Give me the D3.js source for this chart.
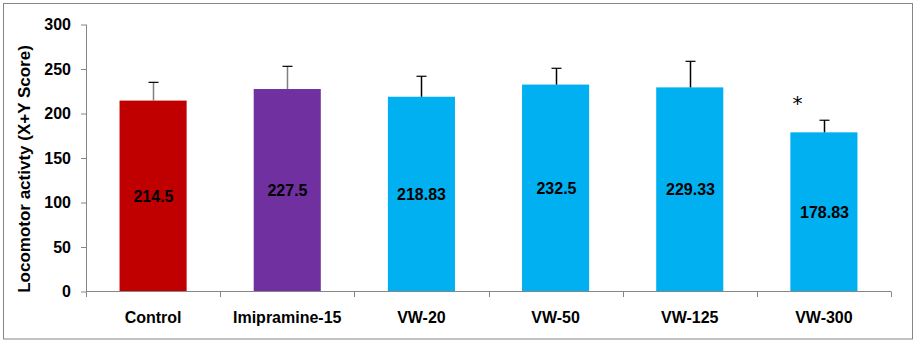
<!DOCTYPE html>
<html><head><meta charset="utf-8">
<script src="https://cdn.jsdelivr.net/npm/d3@7"></script>
<style>body{margin:0;background:#fff}svg{display:block}text{font-family:"Liberation Sans",Arial,sans-serif}</style>
</head><body>
<script>
const categories = ["Control","Imipramine-15","VW-20","VW-50","VW-125","VW-300"];
const values = [214.5,227.5,218.83,232.5,229.33,178.83];
const errors = [20.5,25.5,23,18.3,29.3,13.6];
const labels = ["214.5","227.5","218.83","232.5","229.33","178.83"];
const colors = ["#c00000","#7030a0","#00b0f0","#00b0f0","#00b0f0","#00b0f0"];
const errColors = ["#7f7f7f","#7f7f7f","#000","#000","#000","#000"];
const significant = [false,false,false,false,false,true];
const yTicks = [0,50,100,150,200,250,300];

const W=917,H=343;
const svg=d3.select("body").append("svg").attr("width",W).attr("height",H);
svg.append("rect").attr("x",3.5).attr("y",3.5).attr("width",909).attr("height",335.5).attr("fill","#fff").attr("stroke","#868686").attr("stroke-width",1);

const x=d3.scaleBand().domain(categories).range([86,891]).paddingInner(0.5).paddingOuter(0.25);
const y=d3.scaleLinear().domain([0,300]).range([291.5,24.5]);

// bars
svg.selectAll("rect.bar").data(categories).enter().append("rect")
 .attr("x",d=>x(d)).attr("width",x.bandwidth())
 .attr("y",(d,i)=>y(values[i])).attr("height",(d,i)=>y(0)-y(values[i]))
 .attr("fill",(d,i)=>colors[i]);

// error bars
categories.forEach((c,i)=>{
  const cx=Math.round(x(c)+x.bandwidth()/2)+0.5;
  svg.append("line").attr("x1",cx).attr("x2",cx).attr("y1",y(values[i])).attr("y2",y(values[i]+errors[i])).attr("stroke",errColors[i]).attr("stroke-width",1.5);
  svg.append("line").attr("x1",cx-5).attr("x2",cx+5).attr("y1",y(values[i]+errors[i])).attr("y2",y(values[i]+errors[i])).attr("stroke","#000").attr("stroke-width",1.2);
  svg.append("text").attr("x",cx).attr("y",(y(values[i])+y(0))/2).attr("dy","0.35em").attr("text-anchor","middle")
    .attr("font-size",16).attr("font-weight","bold").attr("fill","#000").text(labels[i]);
  if(significant[i]){
    svg.append("text").attr("x",cx-27).attr("y",y(values[i]+errors[i])-10).attr("text-anchor","middle")
     .style("font-family","DejaVu Sans, sans-serif").attr("font-size",20).attr("fill","#000").text("*");
  }
});

// y axis
const ya=svg.append("g").attr("transform","translate(86,0)").call(d3.axisLeft(y).tickValues(yTicks).tickSize(5).tickPadding(10));
ya.select(".domain").attr("stroke","#868686").attr("d","M0.5,24.5V291.5");
ya.selectAll(".tick line").attr("stroke","#868686");
ya.selectAll("text").attr("font-size",16).attr("font-weight","bold").attr("fill","#000").style("font-family","Liberation Sans, Arial, sans-serif");

// x axis
const xg=svg.append("g");
xg.append("line").attr("x1",86).attr("x2",891).attr("y1",291.5).attr("y2",291.5).attr("stroke","#868686");
d3.range(categories.length+1).forEach(k=>{
  const xx=Math.round(86+k*805/categories.length)+0.5;
  xg.append("line").attr("x1",xx).attr("x2",xx).attr("y1",291.5).attr("y2",297).attr("stroke","#868686");
});
xg.selectAll("text").data(categories).enter().append("text")
 .attr("x",d=>x(d)+x.bandwidth()/2).attr("y",323).attr("text-anchor","middle")
 .attr("font-size",16).attr("font-weight","bold").attr("fill","#000").text(d=>d);

svg.append("text").attr("transform","translate(30,169) rotate(-90)").attr("text-anchor","middle")
 .attr("font-size",17).attr("font-weight","bold").attr("fill","#000").text("Locomotor activty (X+Y Score)");
</script>
</body></html>
